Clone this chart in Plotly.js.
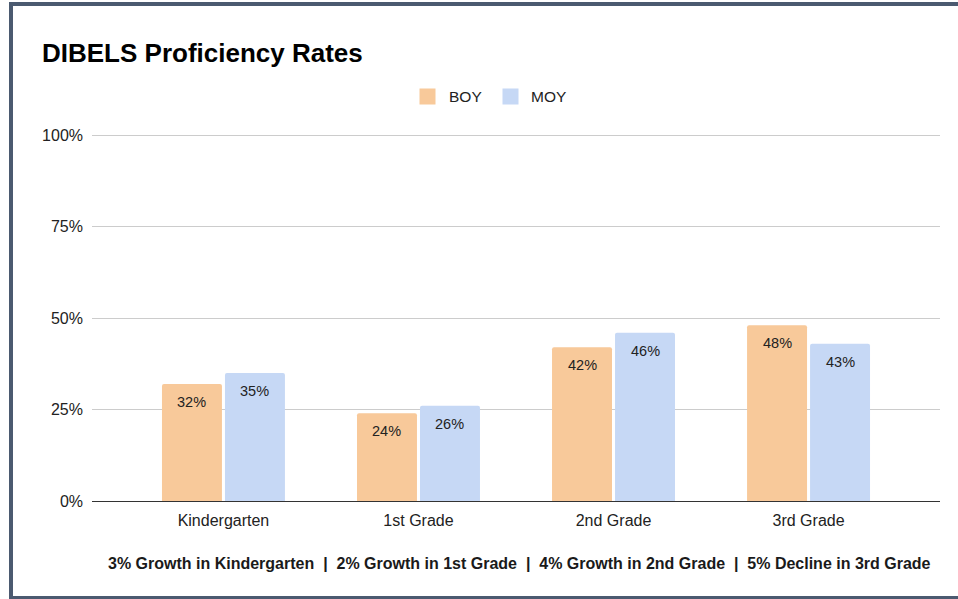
<!DOCTYPE html>
<html>
<head>
<meta charset="utf-8">
<script src="https://cdn.plot.ly/plotly-3.0.1.min.js"></script>
<style>
  html, body { margin: 0; padding: 0; background: #ffffff; overflow: hidden; }
  #chart { position: absolute; left: 0; top: 0; width: 958px; height: 599px; }
  #frame { position: absolute; left: 9px; top: 2px; width: 1000px; height: 590px;
           border-left: 4px solid #4b5a70; border-top: 4px solid #4b5a70; border-bottom: 4px solid #4b5a70;
           pointer-events: none; }
</style>
</head>
<body>
<div id="chart"></div>
<div id="frame"></div>
<script>
const categories = ["Kindergarten", "1st Grade", "2nd Grade", "3rd Grade"];
const seriesNames = ["BOY", "MOY"];
const boyValues = [32, 24, 42, 48];
const moyValues = [35, 26, 46, 43];
const yTickValues = [0, 25, 50, 75, 100];
const yTickLabels = ["0%", "25%", "50%", "75%", "100%"];
const chartTitle = "DIBELS Proficiency Rates";
const footnote = "3% Growth in Kindergarten  |  2% Growth in 1st Grade  |  4% Growth in 2nd Grade  |  5% Decline in 3rd Grade";

const FONT = "Liberation Sans, Arial, sans-serif";
const colors = ["#f8c99a", "#c6d8f5"];

// plot area geometry (pixels) used to place legend items in paper coords
const PL = 92, PR = 940, PT = 134, PB = 501;
const px2x = p => (p - PL) / (PR - PL);
const px2y = p => (PB - p) / (PB - PT);

const traces = [boyValues, moyValues].map((vals, i) => ({
  type: "bar",
  name: seriesNames[i],
  x: categories,
  y: vals,
  marker: { color: colors[i], line: { width: 0 }, cornerradius: 2 },
  hoverinfo: "skip",
  showlegend: false
}));

const annotations = [];
[boyValues, moyValues].forEach((vals, i) => {
  vals.forEach((v, j) => {
    annotations.push({
      x: categories[j], y: v, xref: "x", yref: "y",
      text: v + "%", showarrow: false,
      xshift: i === 0 ? -31.5 : 31.5, yshift: -18,
      yanchor: "middle", xanchor: "center",
      font: { family: FONT, size: 14.5, color: "#222222" }
    });
  });
});
annotations.push({
  xref: "paper", yref: "paper", x: 0.504, y: -0.169,
  text: "<b>" + footnote + "</b>", showarrow: false,
  xanchor: "center", yanchor: "middle",
  font: { family: FONT, size: 16, color: "#1a1a1a" }
});

// custom legend (15px squares like the reference)
const legendSquareLeft = [419, 502];
const legendTextLeft = [447, 529];
const legendMid = 96.5;
seriesNames.forEach((name, i) => {
  annotations.push({
    xref: "paper", yref: "paper",
    x: px2x(legendSquareLeft[i]), y: px2y(legendMid),
    xanchor: "left", yanchor: "middle",
    text: "&nbsp;", showarrow: false,
    width: 13, height: 13, borderpad: 1,
    bgcolor: colors[i],
    font: { family: FONT, size: 10 }
  });
  annotations.push({
    xref: "paper", yref: "paper",
    x: px2x(legendTextLeft[i]), y: px2y(legendMid),
    xanchor: "left", yanchor: "middle",
    text: name, showarrow: false,
    font: { family: FONT, size: 15.5, color: "#222222" }
  });
});

const layout = {
  width: 958, height: 599,
  margin: { l: PL, r: 958 - PR, t: PT, b: 599 - PB, pad: 0 },
  paper_bgcolor: "rgba(0,0,0,0)",
  plot_bgcolor: "#ffffff",
  font: { family: FONT, size: 16, color: "#222222" },
  title: {
    text: "<b>" + chartTitle + "</b>",
    xref: "container", yref: "container",
    x: 42 / 958, xanchor: "left",
    y: 1 - 53 / 599, yanchor: "middle",
    font: { family: FONT, size: 26, color: "#000000" }
  },
  showlegend: false,
  barmode: "group",
  bargap: 0.354,
  bargroupgap: 0.048,
  xaxis: {
    type: "category",
    range: [-0.674, 3.674],
    showgrid: false,
    showline: false,
    zeroline: false,
    ticks: "",
    tickfont: { family: FONT, size: 16, color: "#222222" },
    ticklabelstandoff: 8
  },
  yaxis: {
    range: [0, 100.3],
    tickvals: yTickValues,
    ticktext: yTickLabels,
    showgrid: true,
    gridcolor: "#cccccc",
    gridwidth: 1,
    zeroline: true,
    zerolinecolor: "#333333",
    zerolinewidth: 1,
    showline: false,
    ticks: "",
    ticklabelstandoff: 8,
    tickfont: { family: FONT, size: 16, color: "#222222" },
    fixedrange: true
  },
  annotations: annotations
};

Plotly.newPlot("chart", traces, layout, { displayModeBar: false, staticPlot: true });
</script>
</body>
</html>
